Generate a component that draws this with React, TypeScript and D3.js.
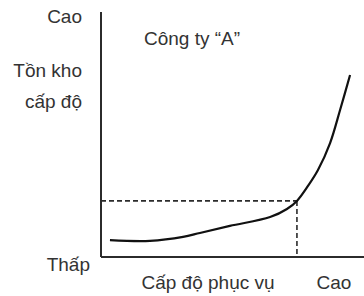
import * as d3 from 'd3'

// service level (x) vs inventory level (y), 0..100 on both axes
const serviceLevel = [3.4, 18.6, 31.2, 37.6, 49, 64.3, 70.7, 74.5, 78.7, 82.5, 87.1, 90.9, 94.7]
const inventory = [6.9, 6.6, 8.2, 9.8, 12.7, 16.3, 19.6, 22.9, 29, 35.5, 46.5, 60, 74.3]

// highlighted point on the curve
const markService = 74.5
const markInventory = 22.9

const yLabels = ['Cao', 'Tồn kho', 'cấp độ']
const yLowLabel = 'Thấp'
const xLabel = 'Cấp độ phục vụ'
const xHighLabel = 'Cao'
const title = 'Công ty “A”'

export default function App() {
  const width = 364
  const height = 296
  const margin = { top: 12, right: 0, bottom: 39, left: 101 }

  const x = d3.scaleLinear().domain([0, 100]).range([margin.left, width - margin.right])
  const y = d3.scaleLinear().domain([0, 100]).range([height - margin.bottom, margin.top])

  const pts = serviceLevel.map((s, i) => [s, inventory[i]] as [number, number])
  const line = d3.line<[number, number]>()
    .x(d => x(d[0]))
    .y(d => y(d[1]))
    .curve(d3.curveCatmullRom.alpha(0.5))

  const ink = '#2b2b2b'
  const textInk = '#333'
  const font = 'Liberation Sans, Arial, sans-serif'

  return (
    <svg
      width={width}
      height={height}
      style={{ position: 'absolute', left: 0, top: 0, background: '#fff' }}
      fontFamily={font}
      fontSize={19}
      fill={textInk}
    >
      {/* dashed guides */}
      <line x1={x(0)} x2={x(markService)} y1={y(markInventory)} y2={y(markInventory)}
        stroke={ink} strokeWidth={1.6} strokeDasharray="5,3" />
      <line x1={x(markService)} x2={x(markService)} y1={y(markInventory)} y2={y(0)}
        stroke={ink} strokeWidth={1.6} strokeDasharray="5,3" />

      {/* axes */}
      <line x1={x(0)} x2={x(0)} y1={y(100)} y2={y(0)} stroke={ink} strokeWidth={2} />
      <line x1={x(0)} x2={x(100)} y1={y(0)} y2={y(0)} stroke={ink} strokeWidth={2} />

      <path d={line(pts) || ''} fill="none" stroke="#111" strokeWidth={2.2} />

      {/* labels */}
      <text x={82} y={23} textAnchor="end">{yLabels[0]}</text>
      <text x={82} y={77} textAnchor="end">{yLabels[1]}</text>
      <text x={82} y={108} textAnchor="end">{yLabels[2]}</text>
      <text x={90} y={271} textAnchor="end">{yLowLabel}</text>
      <text x={208} y={289} textAnchor="middle">{xLabel}</text>
      <text x={334} y={289} textAnchor="middle">{xHighLabel}</text>
      <text x={144} y={45}>{title}</text>
    </svg>
  )
}
